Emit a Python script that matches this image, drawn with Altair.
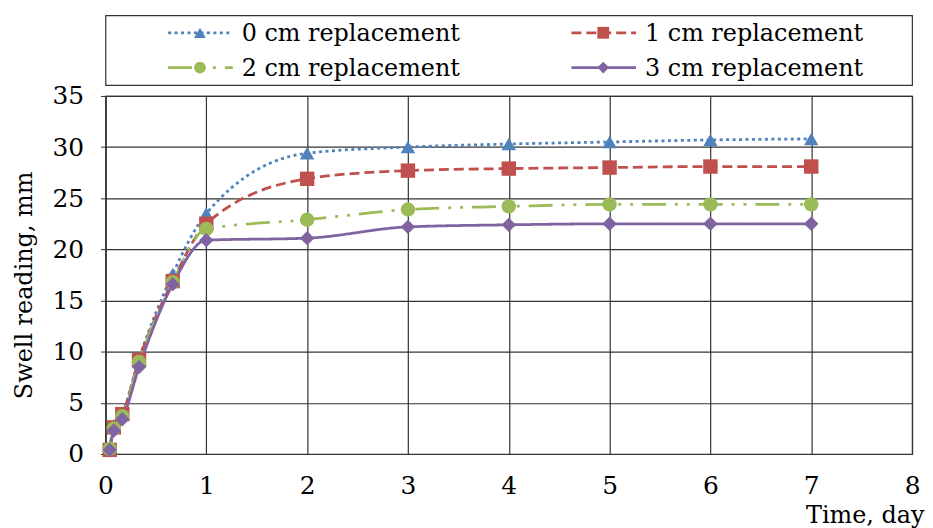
import altair as alt
import pandas as pd

# ---- data ----
series = ["0 cm replacement", "1 cm replacement", "2 cm replacement", "3 cm replacement"]
times = [0.042, 0.083, 0.167, 0.333, 0.667, 1, 2, 3, 4, 5, 6, 7]
s0 = [0.6, 2.8, 4.0, 9.3, 17.6, 23.5, 29.4, 30.0, 30.3, 30.5, 30.7, 30.8]
s1 = [0.4, 2.6, 3.9, 9.2, 16.9, 22.5, 26.9, 27.7, 27.9, 28.0, 28.1, 28.1]
s2 = [0.5, 2.5, 3.7, 9.0, 16.8, 22.0, 22.9, 23.9, 24.2, 24.4, 24.4, 24.4]
s3 = [0.4, 2.3, 3.4, 8.5, 16.6, 20.9, 21.1, 22.2, 22.4, 22.5, 22.5, 22.5]
x_ticks = [0, 1, 2, 3, 4, 5, 6, 7, 8]
y_ticks = [0, 5, 10, 15, 20, 25, 30, 35]

colors = ["#4F81BD", "#C0504D", "#9BBB59", "#8064A2"]
shapes = ["triangle-up", "square", "circle", "diamond"]
dashes = [[3, 3.5], [10, 5], [24, 9, 3, 9, 3, 9], [1, 0]]

FONT = "DejaVu Serif"
FS_LABEL = 25
FS_TITLE = 24
FS_LEGEND = 24

rows = []
for name, vals in zip(series, [s0, s1, s2, s3]):
    for t, v in zip(times, vals):
        rows.append({"series": name, "time": t, "swell": v})
df = pd.DataFrame(rows)

leg = pd.DataFrame({
    "series": series,
    "col": [i % 2 for i in range(len(series))],
    "row": [i // 2 for i in range(len(series))],
})

color = alt.Color("series:N", scale=alt.Scale(domain=series, range=colors), legend=None)
dash = alt.StrokeDash("series:N", scale=alt.Scale(domain=series, range=dashes), legend=None)
shape = alt.Shape("series:N", scale=alt.Scale(domain=series, range=shapes), legend=None)

x = alt.X(
    "time:Q",
    title="Time, day",
    scale=alt.Scale(domain=[0, 8], nice=False),
    axis=alt.Axis(
        values=x_ticks, format="d", grid=True, gridColor="#333", gridWidth=1.2,
        domainColor="#333", domainWidth=1.2, ticks=False, tickSize=0,
        labelFont=FONT, labelFontSize=FS_LABEL, labelColor="black", labelPadding=20,
        labelFlush=False,
        titleFont=FONT, titleFontSize=FS_TITLE, titleFontWeight="normal", titleColor="black",
        titleAlign="right", titleBaseline="alphabetic", titleX=823, titleY=69,
    ),
)
y = alt.Y(
    "swell:Q",
    title="Swell reading, mm",
    scale=alt.Scale(domain=[0, 35], nice=False),
    axis=alt.Axis(
        values=y_ticks, grid=True, gridColor="#333", gridWidth=1.2,
        domainColor="#333", domainWidth=1.2, ticks=True, tickSize=5, tickColor="#333",
        labelFont=FONT, labelFontSize=FS_LABEL, labelColor="black", labelPadding=17,
        labelFlush=False,
        titleFont=FONT, titleFontSize=FS_TITLE, titleFontWeight="normal", titleColor="black",
        titleAngle=270, titleAlign="center", titleBaseline="middle",
        titleX=-81, titleY=190,
    ),
)

lines = alt.Chart(df).mark_line(interpolate="monotone", strokeWidth=2.8).encode(
    x=x, y=y, color=color, strokeDash=dash
)
points = alt.Chart(df).mark_point(filled=True, size=210, opacity=1).encode(
    x=x, y=y, color=color, shape=shape
)
main = alt.layer(lines, points).properties(width=811, height=360)

# ---- legend panel built from the series names ----
lx = alt.X("col:Q", scale=alt.Scale(domain=[0, 2]), axis=None)
ly = alt.Y("row:Q", scale=alt.Scale(domain=[-0.5, 1.5], reverse=True), axis=None)
base = alt.Chart(leg).encode(x=lx, y=ly)
lrule = base.mark_rule(xOffset=63, x2Offset=128, strokeWidth=2.8).encode(
    x2=alt.X2("col:Q"), color=color, strokeDash=dash
)
lpts = base.mark_point(filled=True, size=140, opacity=1, xOffset=95).encode(
    color=color, shape=shape
)
ltxt = base.mark_text(
    align="left", baseline="middle", xOffset=137, yOffset=1,
    font=FONT, fontSize=FS_LEGEND, color="black"
).encode(text="series:N")
legend_panel = alt.layer(lrule, lpts, ltxt).properties(width=811, height=70)

chart = (
    alt.vconcat(legend_panel, main, spacing=11, bounds="flush")
    .properties(padding={"left": 4, "top": 5, "right": 0, "bottom": 0})
    .configure_view(stroke="#333", strokeWidth=1.2)
)

chart.save("out.html", embed_options={"renderer": "svg", "actions": False})
